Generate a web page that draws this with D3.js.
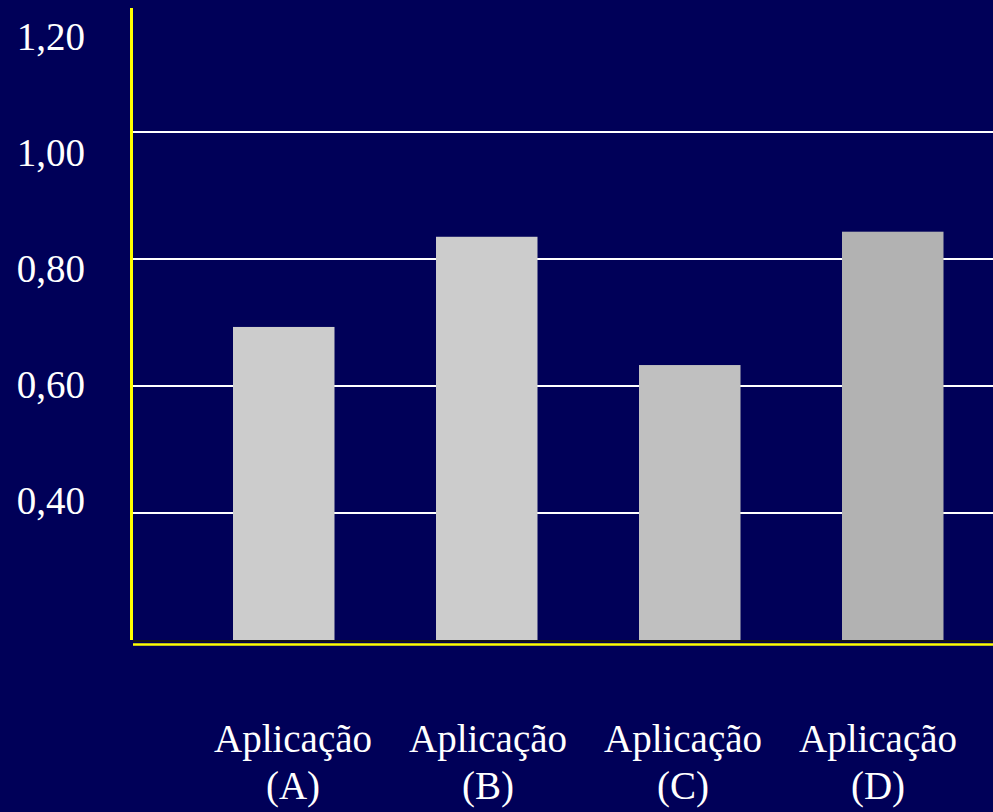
<!DOCTYPE html>
<html lang="pt">
<head>
  <meta charset="UTF-8">
  <title>Aplicações</title>
  <script src="https://cdn.jsdelivr.net/npm/d3@7"></script>
  <style>
    body { margin: 0; background: #000058; }
  </style>
</head>
<body>
<script>
  // dados
  const categories = ["A", "B", "C", "D"];
  const values = [0.693, 0.835, 0.633, 0.843];
  const barColors = ["#cccccc", "#cccccc", "#c0c0c0", "#b2b2b2"];
  const tickValues = [0.4, 0.6, 0.8, 1.0, 1.2];
  const tickLabels = ["0,40", "0,60", "0,80", "1,00", "1,20"];
  const gridValues = [0.4, 0.6, 0.8, 1.0];

  const w = 993, h = 812;
  const svg = d3.select("body").append("svg").attr("width", w).attr("height", h);

  svg.append("rect").attr("width", w).attr("height", h).attr("fill", "#000058");

  // escalas
  const y = d3.scaleLinear().domain([0.2, 1.2]).range([640, 5]);
  const yLabel = d3.scaleLinear().domain([0.4, 1.2]).range([514, 50]);
  const x = d3.scaleBand().domain(categories).range([131.5, 1045]).paddingInner(0.5).paddingOuter(0.5);
  const xLabel = d3.scalePoint().domain(categories).range([293, 878]);

  // linhas de grade
  svg.selectAll("line.grid").data(gridValues).enter().append("line")
    .attr("class", "grid")
    .attr("x1", 133).attr("x2", w)
    .attr("y1", d => y(d)).attr("y2", d => y(d))
    .attr("stroke", "#ffffff").attr("stroke-width", 2);

  // barras
  svg.selectAll("rect.bar").data(values).enter().append("rect")
    .attr("class", "bar")
    .attr("x", (d, i) => x(categories[i]))
    .attr("width", x.bandwidth())
    .attr("y", d => y(d))
    .attr("height", d => y(0.2) - y(d))
    .attr("fill", (d, i) => barColors[i]);

  // linha base escura + eixo x amarelo
  svg.append("line").attr("x1", 133).attr("x2", w).attr("y1", 641).attr("y2", 641)
    .attr("stroke", "#161616").attr("stroke-width", 2);
  svg.append("line").attr("x1", 133).attr("x2", w).attr("y1", 644.5).attr("y2", 644.5)
    .attr("stroke", "#ffff00").attr("stroke-width", 2.5);

  // eixo y amarelo
  svg.append("line").attr("x1", 131.5).attr("x2", 131.5).attr("y1", 8).attr("y2", 640)
    .attr("stroke", "#ffff00").attr("stroke-width", 3);

  // rótulos do eixo y
  svg.selectAll("text.ytick").data(tickValues).enter().append("text")
    .attr("class", "ytick")
    .attr("x", 85).attr("y", d => yLabel(d))
    .attr("text-anchor", "end")
    .attr("font-family", "'Liberation Serif', 'Times New Roman', serif")
    .attr("font-size", "39px").attr("fill", "#ffffff")
    .text((d, i) => tickLabels[i]);

  // rótulos das categorias
  const cat = svg.selectAll("g.cat").data(categories).enter().append("g")
    .attr("class", "cat")
    .attr("transform", d => "translate(" + xLabel(d) + ",0)");
  cat.append("text").attr("y", 752).attr("text-anchor", "middle")
    .attr("font-family", "'Liberation Serif', 'Times New Roman', serif")
    .attr("font-size", "39px").attr("fill", "#ffffff")
    .text("Aplicação");
  cat.append("text").attr("y", 799).attr("text-anchor", "middle")
    .attr("font-family", "'Liberation Serif', 'Times New Roman', serif")
    .attr("font-size", "39px").attr("fill", "#ffffff")
    .text(d => "(" + d + ")");
</script>
</body>
</html>
